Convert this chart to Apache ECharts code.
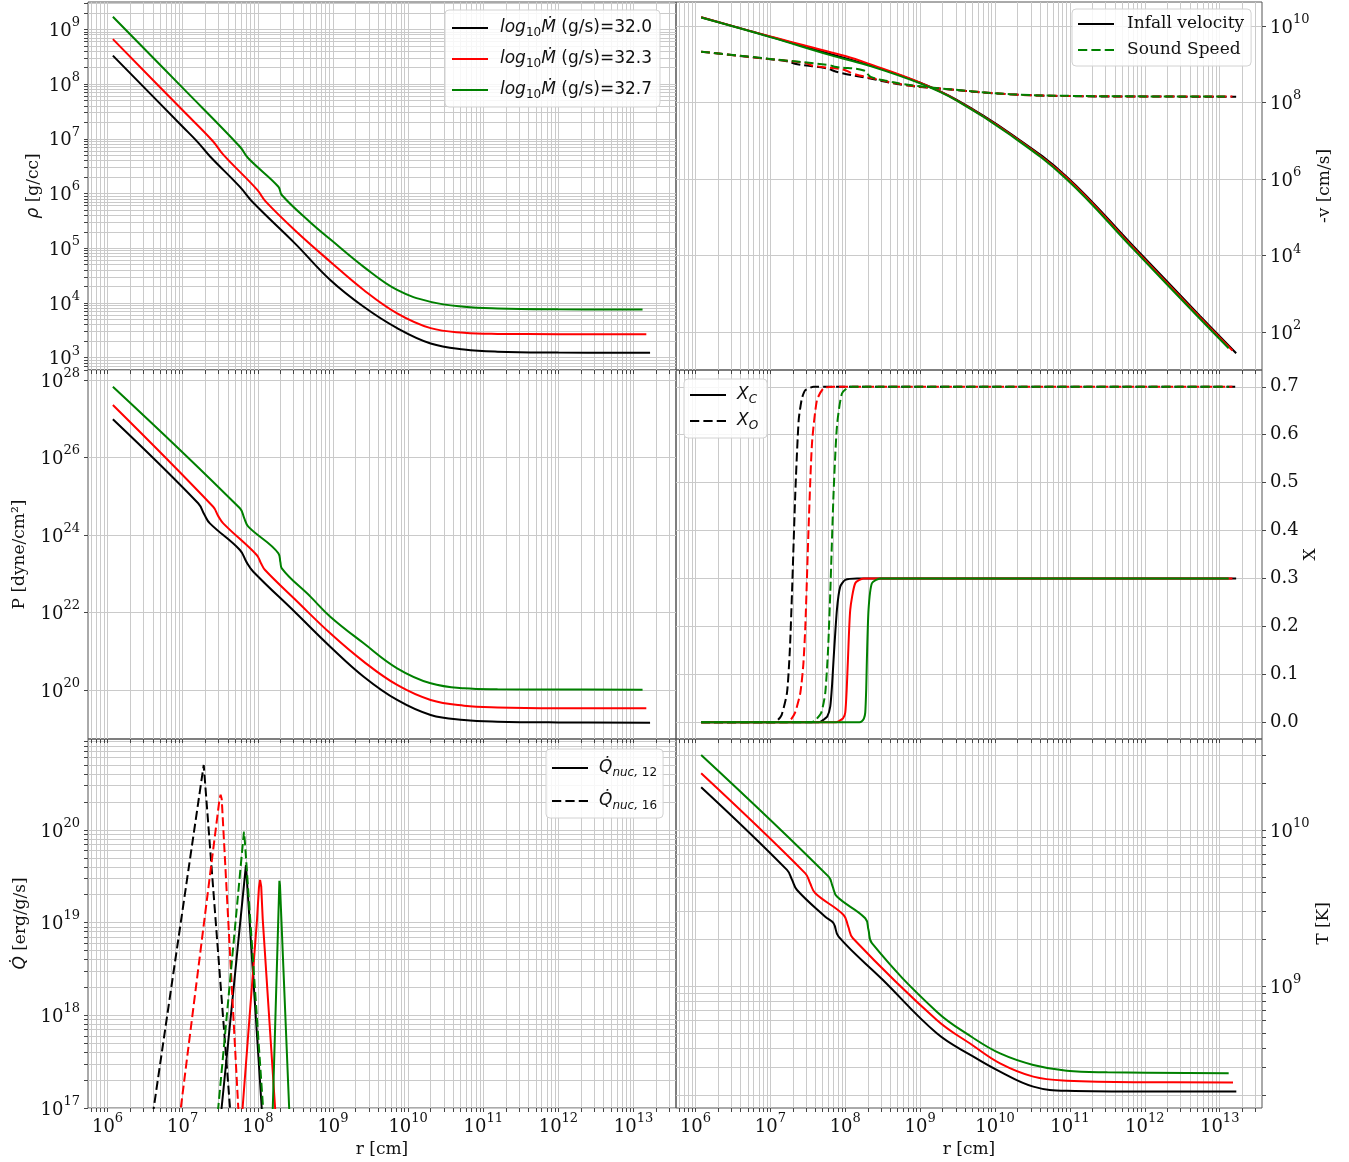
<!DOCTYPE html>
<html>
<head>
<meta charset="utf-8">
<script src="https://cdn.jsdelivr.net/npm/echarts@6.0.0/dist/echarts.min.js"></script>
<style>
  html, body { margin: 0; padding: 0; background: #fff; }
  #main { width: 1349px; height: 1162px; }
</style>
</head>
<body>
<div id="main"></div>
<script>
// all points are [log10 r (cm), log10 value]  (X panel: [log10 r, mass fraction])
var rhoM320 = [[6.071,8.52],[7.0,7.22],[7.206,6.93],[7.362,6.68],[7.762,6.12],[7.94,5.83],[8.5,5.08],[8.964,4.42],[9.409,3.93],[9.854,3.54],[10.30,3.26],[10.744,3.15],[11.19,3.11],[12.0,3.095],[13.22,3.09]];
var rhoM323 = [[6.071,8.82],[7.0,7.52],[7.40,6.96],[7.54,6.71],[7.99,6.07],[8.10,5.86],[8.5,5.32],[8.964,4.754],[9.409,4.237],[9.854,3.81],[10.30,3.54],[10.744,3.456],[11.19,3.435],[12.0,3.43],[13.17,3.43]];
var rhoM327 = [[6.071,9.23],[7.0,7.93],[7.762,6.855],[7.873,6.643],[8.274,6.124],[8.319,5.972],[8.7,5.47],[8.964,5.163],[9.409,4.66],[9.854,4.237],[10.30,4.02],[10.744,3.93],[11.19,3.90],[12.0,3.885],[13.12,3.88]];

var velM320 = [[6.076,10.227],[7.0,9.72],[7.8,9.27],[8.289,9.0],[9.0,8.52],[9.489,8.07],[10.2,7.198],[10.956,6.066],[11.844,4.256],[12.733,2.437],[13.22,1.454]];
var velM323 = [[6.076,10.227],[7.0,9.725],[7.6,9.42],[8.0,9.215],[8.289,9.03],[9.0,8.52],[9.489,8.06],[10.2,7.18],[10.956,6.04],[11.844,4.22],[12.733,2.40],[13.17,1.525]];
var velM327 = [[6.076,10.22],[7.0,9.71],[7.8,9.24],[8.289,8.98],[9.0,8.50],[9.489,8.05],[10.2,7.16],[10.956,6.00],[11.844,4.18],[12.733,2.36],[13.12,1.585]];
var csM320 = [[6.076,9.33],[7.0,9.13],[7.22,9.08],[7.36,9.00],[7.73,8.90],[7.91,8.79],[8.3,8.64],[8.778,8.46],[9.222,8.373],[10.2,8.216],[11.0,8.17],[12.0,8.158],[13.22,8.154]];
var csM323 = [[6.076,9.33],[7.0,9.135],[7.45,9.04],[7.58,8.96],[7.98,8.86],[8.10,8.76],[8.4,8.62],[8.778,8.47],[9.222,8.376],[10.2,8.218],[11.0,8.172],[12.0,8.16],[13.17,8.156]];
var csM327 = [[6.076,9.33],[7.0,9.14],[7.77,8.985],[7.88,8.93],[8.25,8.84],[8.34,8.67],[8.6,8.55],[8.778,8.48],[9.222,8.38],[10.2,8.22],[11.0,8.175],[12.0,8.162],[13.12,8.158]];

var presM320 = [[6.071,26.985],[7.206,24.818],[7.29,24.52],[7.362,24.30],[7.762,23.613],[7.85,23.30],[7.94,23.053],[8.5,22.0],[8.964,21.118],[9.409,20.343],[9.854,19.742],[10.30,19.355],[10.744,19.226],[11.19,19.183],[12.0,19.163],[13.22,19.157]];
var presM323 = [[6.071,27.355],[7.406,24.73],[7.47,24.50],[7.54,24.30],[7.985,23.484],[8.04,23.28],[8.096,23.097],[8.5,22.33],[8.964,21.462],[9.409,20.731],[9.854,20.129],[10.30,19.742],[10.744,19.595],[11.19,19.55],[12.0,19.53],[13.17,19.527]];
var presM327 = [[6.071,27.828],[7.762,24.688],[7.82,24.43],[7.873,24.215],[8.274,23.527],[8.30,23.30],[8.319,23.14],[8.7,22.41],[8.964,21.892],[9.409,21.204],[9.854,20.56],[10.30,20.172],[10.744,20.043],[11.19,20.017],[12.0,20.01],[13.12,20.009]];

var xcM320 = [[6.076,0],[7.65,0],[7.689,0.003],[7.76,0.012],[7.80,0.033],[7.825,0.08],[7.844,0.131],[7.889,0.235],[7.933,0.283],[8.0,0.297],[8.156,0.30],[13.22,0.30]];
var xcM323 = [[6.076,0],[7.88,0],[7.911,0.002],[7.97,0.008],[8.0,0.02],[8.02,0.07],[8.036,0.131],[8.067,0.235],[8.133,0.29],[8.244,0.30],[13.17,0.30]];
var xcM327 = [[6.076,0],[8.19,0],[8.222,0.002],[8.25,0.008],[8.267,0.02],[8.28,0.07],[8.289,0.131],[8.311,0.235],[8.356,0.29],[8.467,0.30],[13.12,0.30]];
var xoM320 = [[6.076,0],[7.05,0],[7.089,0.003],[7.15,0.015],[7.222,0.061],[7.26,0.15],[7.289,0.27],[7.333,0.478],[7.378,0.63],[7.42,0.675],[7.467,0.693],[7.578,0.70],[13.22,0.70]];
var xoM323 = [[6.076,0],[7.22,0],[7.267,0.004],[7.33,0.02],[7.40,0.061],[7.44,0.12],[7.467,0.2],[7.511,0.408],[7.556,0.582],[7.622,0.672],[7.711,0.697],[7.85,0.70],[13.17,0.70]];
var xoM327 = [[6.076,0],[7.55,0],[7.60,0.004],[7.68,0.02],[7.733,0.061],[7.77,0.15],[7.80,0.27],[7.844,0.478],[7.889,0.617],[7.956,0.686],[8.067,0.70],[13.12,0.70]];

var q12M320 = [[7.48,16.69],[7.518,17.0],[7.842,19.62],[8.052,17.0],[8.09,16.53]];
var q12M323 = [[7.77,16.71],[7.80,17.03],[7.99,19.04],[8.015,19.38],[8.03,19.46],[8.045,19.39],[8.065,19.04],[8.23,17.0],[8.27,16.51]];
var q12M327 = [[8.185,16.61],[8.199,17.0],[8.287,19.45],[8.295,19.40],[8.417,17.0],[8.44,16.55]];
var q16M320 = [[6.55,16.64],[6.62,17.03],[7.28,20.70],[7.63,17.0],[7.68,16.47]];
var q16M323 = [[6.91,16.59],[6.975,17.0],[7.49,20.33],[7.505,20.38],[7.52,20.33],[7.74,17.0],[7.77,16.57]];
var q16M327 = [[7.42,16.54],[7.473,17.0],[7.80,19.85],[7.816,19.98],[7.83,19.85],[8.07,17.0],[8.11,16.53]];

var tempM320 = [[6.076,10.274],[7.222,9.744],[7.29,9.68],[7.356,9.615],[7.733,9.444],[7.844,9.402],[7.911,9.316],[8.5,9.04],[9.222,8.697],[9.7,8.55],[10.067,8.451],[10.511,8.355],[10.956,8.328],[12.0,8.323],[13.222,8.323]];
var tempM323 = [[6.076,10.363],[7.467,9.722],[7.53,9.66],[7.6,9.594],[7.978,9.455],[8.04,9.38],[8.102,9.306],[9.222,8.782],[9.7,8.62],[10.067,8.504],[10.511,8.419],[10.956,8.393],[12.0,8.383],[13.178,8.382]];
var tempM327 = [[6.076,10.481],[7.778,9.701],[7.83,9.64],[7.889,9.573],[8.267,9.434],[8.31,9.36],[8.356,9.274],[9.222,8.835],[9.7,8.67],[10.067,8.568],[10.511,8.494],[10.956,8.457],[11.5,8.447],[13.12,8.44]];

// tick label values
var rMajor = [6, 7, 8, 9, 10, 11, 12, 13];
var rhoMajor = [3, 4, 5, 6, 7, 8, 9];
var velMajor = [2, 4, 6, 8, 10];
var presMajor = [20, 22, 24, 26, 28];
var xfracMajor = [0, 0.1, 0.2, 0.3, 0.4, 0.5, 0.6, 0.7];
var qMajor = [17, 18, 19, 20];
var tempMajor = [9, 10];

var SERIF = 'DejaVu Serif';
var SANS = 'DejaVu Sans';
var GRIDC = '#cacaca';
var INK = '#111';

function logTicks(lo, hi) {
    var out = [];
    for (var n = Math.floor(lo); n <= Math.ceil(hi); n++) {
        for (var k = 1; k <= 9; k++) {
            var v = n + Math.log10(k);
            if (v >= lo - 1e-9 && v <= hi + 1e-9) out.push(+v.toFixed(6));
        }
    }
    return out;
}

var powRich = {
    b: {fontFamily: SERIF, fontSize: 18, color: INK, padding: [4, 0, 0, 0]},
    s: {fontFamily: SERIF, fontSize: 13, color: INK, padding: [0, 0, 13, 0]}
};
function powLabel(v) { return '{b|10}{s|' + Math.round(v) + '}'; }

function xAxisFor(gi, showLabels) {
    return {
        type: 'value', gridIndex: gi, min: 5.74, max: 13.565,
        axisLine: {show: false, onZero: false},
        axisTick: {show: true, length: 4, lineStyle: {color: '#444'}, customValues: logTicks(5.74, 13.565)},
        axisLabel: {show: showLabels, customValues: rMajor, formatter: powLabel, rich: powRich, margin: 4},
        splitLine: {show: true, lineStyle: {color: GRIDC, width: 1}},
        name: showLabels ? 'r [cm]' : '', nameLocation: 'middle', nameGap: 33,
        nameTextStyle: {fontFamily: SERIF, fontSize: 17, color: INK}
    };
}

function yAxisFor(gi, pos, min, max, ticks, labels, fmt, name, gap) {
    return {
        type: 'value', gridIndex: gi, position: pos, min: min, max: max,
        axisLine: {show: false, onZero: false},
        axisTick: {show: true, length: 4, lineStyle: {color: '#444'}, customValues: ticks},
        axisLabel: {customValues: labels, formatter: fmt, rich: powRich, margin: 8,
            fontFamily: SERIF, fontSize: 18, color: INK},
        splitLine: {show: true, lineStyle: {color: GRIDC, width: 1}},
        name: name, nameLocation: 'middle', nameGap: gap, nameRotate: 90,
        nameTextStyle: {fontFamily: SERIF, fontSize: 17, color: INK,
            rich: {it: {fontFamily: SANS, fontStyle: 'italic', fontSize: 17, color: INK},
                   n: {fontFamily: SERIF, fontSize: 17, color: INK}}}
    };
}

function line(name, data, gi, color, dashed, smooth) {
    return {
        type: 'line', name: name, xAxisIndex: gi, yAxisIndex: gi, data: data,
        symbol: 'none', showSymbol: false, color: color,
        lineStyle: {color: color, width: 2, type: dashed ? [9, 4] : 'solid'},
        smooth: smooth, clip: true
    };
}

var SOLID_ICON = 'path://M0,0H36V2H0Z';
var DASH_ICON = 'path://M0,0H9V2H0Z M13,0H22V2H13Z M26,0H35V2H26Z';
var legendRich = {
    lg: {fontFamily: SANS, fontStyle: 'italic', fontSize: 17, color: INK, lineHeight: 24},
    sub: {fontFamily: SANS, fontSize: 12, color: INK, padding: [10, 0, 0, 0], lineHeight: 24},
    subi: {fontFamily: SANS, fontStyle: 'italic', fontSize: 12, color: INK, padding: [10, 0, 0, 0], lineHeight: 24},
    n: {fontFamily: SANS, fontSize: 17, color: INK, lineHeight: 24}
};
var legendBase = {
    orient: 'vertical', itemWidth: 36, itemHeight: 14,
    backgroundColor: 'rgba(255,255,255,0.85)', borderColor: '#d2d2d2', borderWidth: 1, borderRadius: 4,
    itemStyle: {borderWidth: 0}, selectedMode: false
};
var mdotText = {rho320: '32.0', rho323: '32.3', rho327: '32.7'};

var chart = echarts.init(document.getElementById('main'));
chart.setOption({
    animation: false,
    backgroundColor: '#fff',
    grid: [
        {left: 88, top: 2, width: 588, height: 368, show: true, borderColor: '#555'},
        {left: 676, top: 2, width: 586, height: 368, show: true, borderColor: '#555'},
        {left: 88, top: 370, width: 588, height: 369, show: true, borderColor: '#555'},
        {left: 676, top: 370, width: 586, height: 369, show: true, borderColor: '#555'},
        {left: 88, top: 739, width: 588, height: 369, show: true, borderColor: '#555'},
        {left: 676, top: 739, width: 586, height: 369, show: true, borderColor: '#555'}
    ],
    xAxis: [xAxisFor(0, false), xAxisFor(1, false), xAxisFor(2, false), xAxisFor(3, false), xAxisFor(4, true), xAxisFor(5, true)],
    yAxis: [
        yAxisFor(0, 'left', 2.775, 9.499, logTicks(2.775, 9.499), rhoMajor, powLabel, '{it|ρ}{n| [g/cc]}', 46),
        yAxisFor(1, 'right', 1.016, 10.627, velMajor, velMajor, powLabel, '-v [cm/s]', 54),
        yAxisFor(2, 'left', 18.735, 28.258, presMajor, presMajor, powLabel, 'P [dyne/cm²]', 60),
        yAxisFor(3, 'right', -0.035, 0.735, xfracMajor, xfracMajor, function (v) { return v.toFixed(1); }, 'X', 40),
        yAxisFor(4, 'left', 17, 20.98, logTicks(17, 20.98), qMajor, powLabel, '{it|Q\u0307}{n| [erg/g/s]}', 59),
        yAxisFor(5, 'right', 8.218, 10.583, logTicks(8.218, 10.583), tempMajor, powLabel, 'T [K]', 53)
    ],
    legend: [
        Object.assign({}, legendBase, {
            left: 445, top: 10, padding: [7, 8, 6, 7], itemGap: 9,
            data: [{name: 'rho320', icon: SOLID_ICON}, {name: 'rho323', icon: SOLID_ICON}, {name: 'rho327', icon: SOLID_ICON}],
            formatter: function (nm) { return '{lg|log}{sub|10}{lg|Ṁ}{n| (g/s)=' + mdotText[nm] + '}'; },
            textStyle: {rich: legendRich, padding: [0, 0, 0, 7]}
        }),
        Object.assign({}, legendBase, {
            left: 1072, top: 9, padding: [5, 7, 6, 6], itemGap: 6,
            data: [{name: 'Infall velocity', icon: SOLID_ICON}, {name: 'Sound Speed', icon: DASH_ICON}],
            textStyle: {fontFamily: SERIF, fontSize: 17, color: INK, lineHeight: 20, padding: [0, 0, 0, 8]}
        }),
        Object.assign({}, legendBase, {
            left: 684, top: 379, padding: [5, 9, 6, 6], itemGap: 4,
            data: [{name: 'XC', icon: SOLID_ICON}, {name: 'XO', icon: DASH_ICON}],
            formatter: function (nm) { return '{lg|X}{subi|' + nm.charAt(1) + '}'; },
            textStyle: {rich: legendRich, padding: [0, 0, 0, 6]}
        }),
        Object.assign({}, legendBase, {
            left: 546, top: 749, padding: [8, 6, 6, 6], itemGap: 11,
            data: [{name: 'Q12', icon: SOLID_ICON}, {name: 'Q16', icon: DASH_ICON}],
            formatter: function (nm) { return '{lg|Q\u0307}{subi|nuc,}{sub| ' + nm.slice(1) + '}'; },
            textStyle: {rich: legendRich, padding: [0, 0, 0, 6]}
        })
    ],
    series: [
        line('rho320', rhoM320, 0, '#000', false, 0.4),
        line('rho323', rhoM323, 0, '#ff0000', false, 0.4),
        line('rho327', rhoM327, 0, '#008000', false, 0.4),

        line('Infall velocity', velM320, 1, '#000', false, 0.4),
        line('cs320', csM320, 1, '#000', true, 0.4),
        line('vel323', velM323, 1, '#ff0000', false, 0.4),
        line('cs323', csM323, 1, '#ff0000', true, 0.4),
        line('vel327', velM327, 1, '#008000', false, 0.4),
        line('Sound Speed', csM327, 1, '#008000', true, 0.4),

        line('p320', presM320, 2, '#000', false, 0.4),
        line('p323', presM323, 2, '#ff0000', false, 0.4),
        line('p327', presM327, 2, '#008000', false, 0.4),

        line('XC', xcM320, 3, '#000', false, 0.2),
        line('XO', xoM320, 3, '#000', true, 0.2),
        line('xc323', xcM323, 3, '#ff0000', false, 0.2),
        line('xo323', xoM323, 3, '#ff0000', true, 0.2),
        line('xc327', xcM327, 3, '#008000', false, 0.2),
        line('xo327', xoM327, 3, '#008000', true, 0.2),

        line('Q12', q12M320, 4, '#000', false, false),
        line('Q16', q16M320, 4, '#000', true, false),
        line('q12_323', q12M323, 4, '#ff0000', false, false),
        line('q16_323', q16M323, 4, '#ff0000', true, false),
        line('q12_327', q12M327, 4, '#008000', false, false),
        line('q16_327', q16M327, 4, '#008000', true, false),

        line('t320', tempM320, 5, '#000', false, 0.4),
        line('t323', tempM323, 5, '#ff0000', false, 0.4),
        line('t327', tempM327, 5, '#008000', false, 0.4)
    ]
});
</script>
</body>
</html>
